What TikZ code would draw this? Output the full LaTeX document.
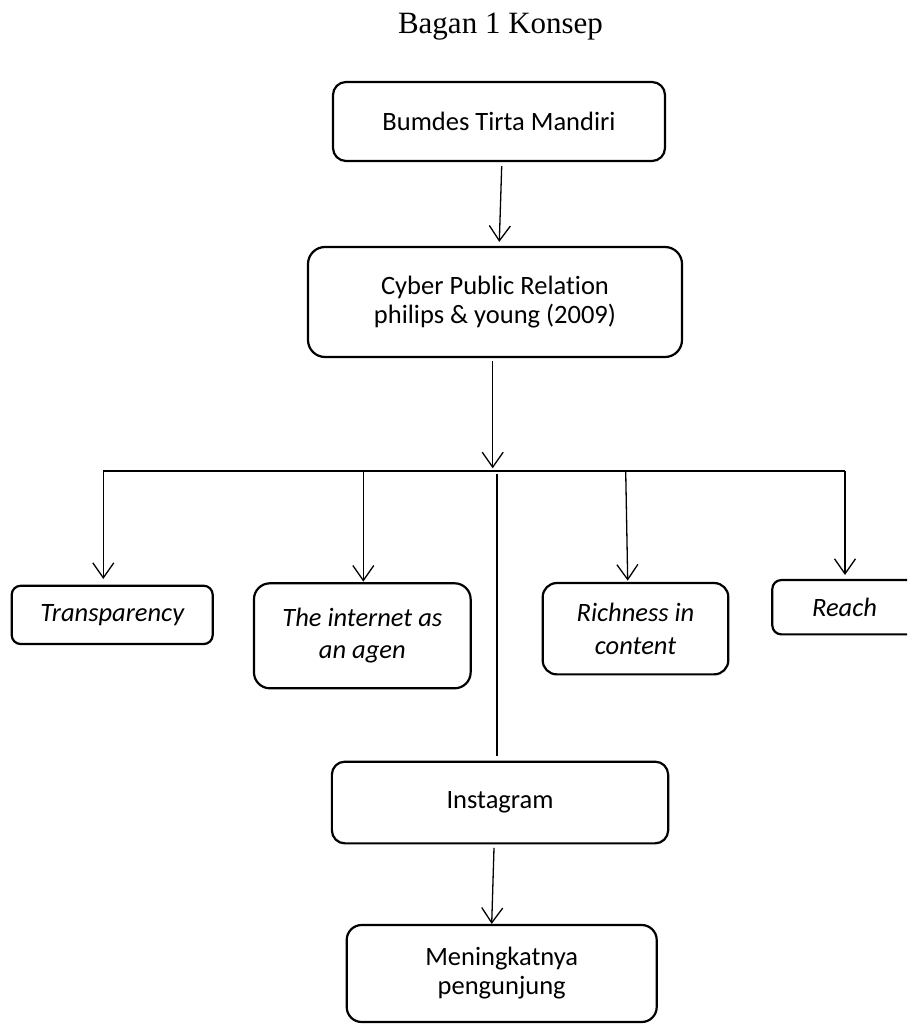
\documentclass[tikz,border=0pt]{standalone}
\usepackage{fontspec}
\setmainfont{Liberation Serif}
\newfontfamily\boxfont[Ligatures=NoCommon]{Carlito}
\usetikzlibrary{arrows.meta}

\begin{document}
\begin{tikzpicture}[x=1pt,y=-1pt,
  box/.style={draw, line width=2.2pt, inner sep=0pt, align=center,
    font=\boxfont\fontsize{26.5}{29}\selectfont},
  ibox/.style={box, font=\boxfont\itshape\fontsize{26.5}{32.5}\selectfont},
  conn/.style={line width=1.3pt},
  arr/.style={conn, -{Straight Barb[length=15pt,width=21pt]}},
]
\useasboundingbox (0,0) rectangle (907,1024);
\begin{scope}
\clip (0,0) rectangle (907,1024);

\node[anchor=base, font=\fontsize{31}{36}\selectfont] (title) at (500.5,33.3) {Bagan 1 Konsep};

\node[box, minimum width=332pt, minimum height=79pt, rounded corners=13pt] (b1) at (499,121.5) {Bumdes Tirta Mandiri};
\node[box, minimum width=374pt, minimum height=110pt, rounded corners=17pt] (b2) at (495,302) {Cyber Public Relation\\philips \& young (2009)};

\node[ibox, minimum width=201pt, minimum height=58.3pt, rounded corners=9pt] (trans) at (112.2,614.9) {Transparency};
\node[ibox, minimum width=216.7pt, minimum height=105pt, rounded corners=16pt] (inet) at (362.3,635.8) {The internet as\\an agen};
\node[ibox, minimum width=185.6pt, minimum height=91.3pt, rounded corners=14pt] (rich) at (635.5,628.7) {Richness in\\content};
\node[ibox, minimum width=144.4pt, minimum height=54.3pt, rounded corners=9pt] (reach) at (844.5,607.2) {Reach};

\node[box, minimum width=336.3pt, minimum height=81.7pt, rounded corners=13pt] (insta) at (500,802.5) {Instagram};
\node[box, minimum width=310pt, minimum height=97pt, rounded corners=15pt] (mening) at (501.7,973.5) {Meningkatnya\\pengunjung};

\coordinate (busL) at (103.3,471);
\coordinate (busR) at (845,471);
\coordinate (busC) at (492.7,471);
\coordinate (busA) at (363.3,471);
\coordinate (busB) at (625.7,471);
\coordinate (busI) at (497,471);

\draw[arr] ([xshift=2.7pt,yshift=-4pt]b1.south) -- ([xshift=4.3pt,yshift=4pt]b2.north);
\draw[arr] ([xshift=-2.3pt,yshift=-3pt]b2.south) -- ([yshift=2.7pt]busC);
\draw[line width=1.6pt] (busL) -- (busR);

\draw[arr] (busL) -- ([yshift=5.7pt]busL |- trans.north);
\draw[arr] (busA) -- ([yshift=0.6pt]busA |- inet.north);
\draw[arr] (busB) -- ([xshift=2pt,yshift=1.3pt]busB |- rich.north);
\draw[arr] (busR) -- ([yshift=4pt]busR |- reach.north);

\draw[line width=2pt, shorten <=3pt] (busI) -- ([yshift=5pt]busI |- insta.north);
\draw[arr] ([xshift=-6pt,yshift=-3.4pt]insta.south) -- ([xshift=-10pt]mening.north);
\end{scope}
\end{tikzpicture}
\end{document}
